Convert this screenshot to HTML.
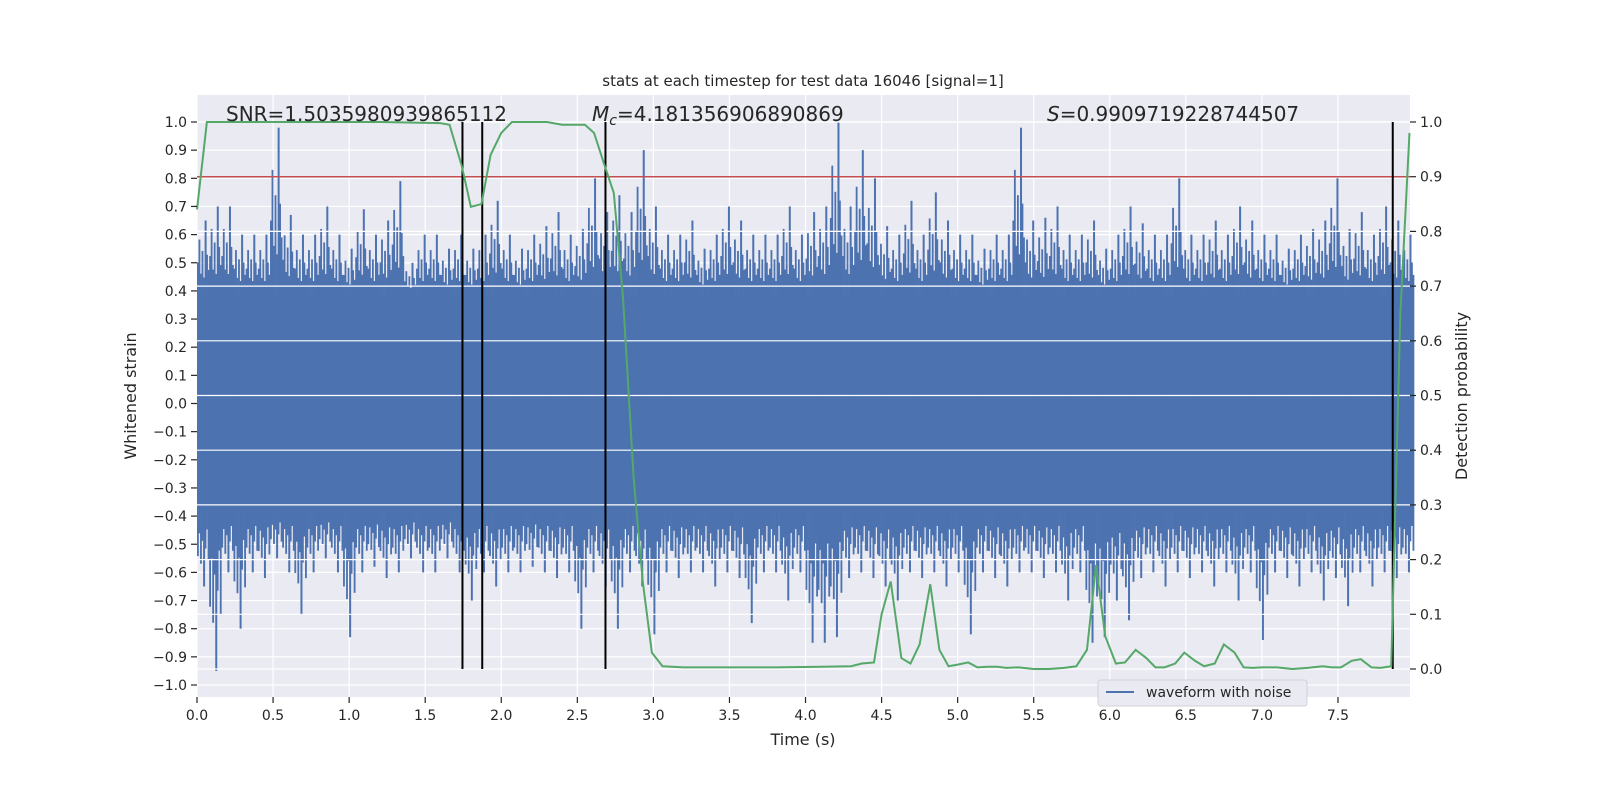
<!DOCTYPE html>
<html><head><meta charset="utf-8"><style>
html,body{margin:0;padding:0;background:#fff;overflow:hidden;width:100%;height:100%;}
svg{display:block;width:100vw;height:100vh;font-family:"DejaVu Sans","Liberation Sans",sans-serif;}
</style></head><body>
<svg id="chart" viewBox="0 0 1600 800" preserveAspectRatio="none" xmlns="http://www.w3.org/2000/svg">
<rect x="0" y="0" width="1600" height="800" fill="#fff"/>
<rect x="197" y="95" width="1213" height="602" fill="#eaeaf2"/>
<g id="grid"></g>
<g id="wave"></g>
<g id="grid2"></g>
<g id="marks"></g>
<g id="axes"></g>
<text x="803" y="86" text-anchor="middle" font-size="15" fill="#262626">stats at each timestep for test data 16046 [signal=1]</text>
<text x="226" y="121" font-size="20" fill="#262626">SNR=1.5035980939865112</text>
<text x="592" y="121" font-size="20" fill="#262626"><tspan font-style="italic">M</tspan><tspan font-style="italic" font-size="14" dy="4">c</tspan><tspan dy="-4">=4.181356906890869</tspan></text>
<text x="1047" y="121" font-size="20" fill="#262626"><tspan font-style="italic">S</tspan>=0.9909719228744507</text>
<text transform="translate(136,396) rotate(-90)" text-anchor="middle" font-size="16" fill="#262626">Whitened strain</text>
<text transform="translate(1467,396) rotate(-90)" text-anchor="middle" font-size="16" fill="#262626">Detection probability</text>
<text x="803" y="745" text-anchor="middle" font-size="16" fill="#262626">Time (s)</text>
<g>
<rect x="1098" y="680" width="209" height="26" rx="3" fill="#eaeaf2" stroke="#d0d0d8"/>
<line x1="1106" y1="692" x2="1134" y2="692" stroke="#4c72b0" stroke-width="2"/>
<text x="1146" y="697" font-size="14" fill="#262626">waveform with noise</text>
</g>
</svg>
<script>
const upper=[0.65,0.7,0.7,0.6,0.6,0.6,0.98,0.67,0.6,0.6,0.7,0.6,0.55,0.69,0.6,0.65,0.79,0.5,0.6,0.6,0.55,0.6,0.55,0.6,0.72,0.6,0.55,0.6,0.63,0.68,0.6,0.62,0.8,0.68,0.74,0.68,0.9,0.7,0.6,0.6,0.65,0.55,0.6,0.7,0.65,0.6,0.6,0.6,0.7,0.6,0.68,0.7,1.0,0.7,0.9,0.8,0.63,0.6,0.72,0.6,0.75,0.65,0.6,0.6,0.55,0.6,0.6,0.98,0.65,0.66,0.7,0.6,0.6,0.65,0.55,0.6,0.7,0.64,0.6,0.6,0.8,0.6,0.6,0.65,0.6,0.7,0.65,0.6,0.6,0.55,0.6,0.62,0.65,0.8,0.62,0.68,0.6,0.7,0.65,0.6];
const lower=[-0.65,-0.95,-0.6,-0.8,-0.6,-0.62,-0.55,-0.6,-0.75,-0.6,-0.55,-0.6,-0.83,-0.6,-0.58,-0.62,-0.6,-0.55,-0.6,-0.6,-0.55,-0.6,-0.7,-0.6,-0.65,-0.6,-0.6,-0.58,-0.6,-0.62,-0.6,-0.8,-0.6,-0.65,-0.8,-0.6,-0.65,-0.82,-0.6,-0.62,-0.6,-0.6,-0.65,-0.6,-0.62,-0.78,-0.6,-0.6,-0.7,-0.6,-0.85,-0.85,-0.83,-0.62,-0.6,-0.62,-0.65,-0.7,-0.6,-0.62,-0.6,-0.65,-0.6,-0.82,-0.6,-0.62,-0.65,-0.6,-0.6,-0.62,-0.6,-0.7,-0.6,-0.85,-0.83,-0.7,-0.77,-0.62,-0.6,-0.65,-0.6,-0.62,-0.6,-0.65,-0.6,-0.7,-0.6,-0.84,-0.6,-0.62,-0.65,-0.6,-0.7,-0.62,-0.72,-0.6,-0.65,-0.6,-0.62,-0.6];
const probT=[0,0.065,0.13,0.2,0.4,0.8,1.2,1.6,1.66,1.74,1.8,1.87,1.93,2.0,2.07,2.2,2.3,2.4,2.47,2.55,2.61,2.68,2.74,2.8,2.87,2.93,2.99,3.06,3.2,3.5,3.8,4.1,4.3,4.37,4.45,4.5,4.56,4.63,4.69,4.75,4.82,4.88,4.94,5.0,5.07,5.13,5.2,5.26,5.32,5.4,5.5,5.6,5.7,5.78,5.85,5.91,5.97,6.04,6.1,6.17,6.24,6.3,6.36,6.43,6.49,6.56,6.62,6.69,6.75,6.82,6.88,6.94,7.0,7.1,7.2,7.3,7.4,7.46,7.52,7.59,7.65,7.72,7.78,7.85,7.91,7.97];
const probV=[0.84,1.0,1.0,1.0,1.0,1.0,1.0,0.998,0.995,0.92,0.845,0.85,0.94,0.98,1.0,1.0,1.0,0.995,0.995,0.995,0.98,0.92,0.87,0.68,0.35,0.16,0.03,0.005,0.003,0.003,0.003,0.004,0.005,0.01,0.012,0.1,0.16,0.02,0.01,0.045,0.155,0.035,0.005,0.008,0.012,0.003,0.004,0.004,0.002,0.003,0.0,0.0,0.002,0.005,0.035,0.19,0.06,0.01,0.012,0.035,0.02,0.003,0.003,0.01,0.03,0.015,0.005,0.01,0.045,0.03,0.003,0.002,0.003,0.003,0.0,0.002,0.005,0.003,0.003,0.015,0.018,0.003,0.002,0.005,0.65,0.98];
const xTicks=[0,0.5,1.0,1.5,2.0,2.5,3.0,3.5,4.0,4.5,5.0,5.5,6.0,6.5,7.0,7.5];
const yTicks=[-1.0,-0.9,-0.8,-0.7,-0.6,-0.5,-0.4,-0.3,-0.2,-0.1,0.0,0.1,0.2,0.3,0.4,0.5,0.6,0.7,0.8,0.9,1.0];
const y2Ticks=[0.0,0.1,0.2,0.3,0.4,0.5,0.6,0.7,0.8,0.9,1.0];
const eventTimes=[1.745,1.875,2.685,7.86];
const threshold=0.9;
const binW=0.08;

const NS='http://www.w3.org/2000/svg';
const X0=197,X1=1410,YT=95,YB=697;
const xs=t=>197+t*152.13;
const ys=v=>403.5-v*281.5;
const ys2=p=>669-p*547;
function mk(tag,attrs,parent){const e=document.createElementNS(NS,tag);for(const k in attrs)e.setAttribute(k,attrs[k]);document.getElementById(parent).appendChild(e);return e;}
const fmt=v=>(v<0?'\u2212':'')+Math.abs(v).toFixed(1);

xTicks.forEach(t=>{const l=mk('line',{x1:xs(t),x2:xs(t),y1:YT,y2:YB,stroke:'#fff','stroke-width':1.2},'grid');

});
yTicks.forEach(v=>{const l=mk('line',{x1:X0,x2:X1,y1:ys(v),y2:ys(v),stroke:'#fff','stroke-width':1.2},'grid');

});

// waveform
const CORE=0.38;
const core=mk('rect',{x:X0,y:ys(CORE),width:X1-X0,height:ys(-CORE)-ys(CORE),fill:'#4c72b0'},'wave');


const subF=[0.45,0.75,0.3,0.6,0.25,1.0,0.55,0.35];
const subG=[0.6,0.3,0.7,0.4,1.0,0.5,0.25,0.65];
upper.forEach((v,i)=>{
 const t=i*binW, x=xs(t), w=xs(t+binW)-x, sw=w/subF.length;
 const lo=lower[i];
 subF.forEach((f,k)=>{
  const top=CORE+(v-CORE)*f;
  const bw=f===1.0?2:sw+0.3;
  const b=mk('rect',{x:x+k*sw,y:ys(top),width:bw,height:ys(0)-ys(top),fill:'#4c72b0'},'wave');
  
  
  const g=subG[k];
  const bot=-CORE+(lo+CORE)*g;
  const dw=g===1.0?2:sw+0.3;
  const d=mk('rect',{x:x+k*sw,y:ys(0),width:dw,height:ys(bot)-ys(0),fill:'#4c72b0'},'wave');
  
  
 });
});

y2Ticks.forEach(p=>{const l=mk('line',{x1:X0,x2:X1,y1:ys2(p),y2:ys2(p),stroke:'#fff','stroke-width':1.2},'grid2');

});

const th=mk('line',{x1:X0,x2:X1,y1:ys2(threshold),y2:ys2(threshold),stroke:'#c44e52','stroke-width':1.5},'marks');


eventTimes.forEach(t=>{const l=mk('line',{x1:xs(t),x2:xs(t),y1:ys2(1),y2:ys2(0),stroke:'#000','stroke-width':2},'marks');

});
const pl=mk('polyline',{points:probT.map((t,i)=>xs(t)+','+ys2(probV[i])).join(' '),fill:'none',stroke:'#55a868','stroke-width':2},'marks');



xTicks.forEach(t=>{mk('line',{x1:xs(t),x2:xs(t),y1:YB,y2:YB+6,stroke:'#262626','stroke-width':1.2},'axes');
const tx=mk('text',{x:xs(t),y:YB+23,'text-anchor':'middle','font-size':14,fill:'#262626'},'axes');tx.textContent=t.toFixed(1);

});
yTicks.forEach(v=>{mk('line',{x1:X0-6,x2:X0,y1:ys(v),y2:ys(v),stroke:'#262626','stroke-width':1.2},'axes');
const tx=mk('text',{x:X0-10,y:ys(v)+5,'text-anchor':'end','font-size':14,fill:'#262626'},'axes');tx.textContent=fmt(v);

});
y2Ticks.forEach(p=>{mk('line',{x1:X1,x2:X1+6,y1:ys2(p),y2:ys2(p),stroke:'#262626','stroke-width':1.2},'axes');
const tx=mk('text',{x:X1+10,y:ys2(p)+5,'text-anchor':'start','font-size':14,fill:'#262626'},'axes');tx.textContent=p.toFixed(1);

});
</script>
</body></html>
